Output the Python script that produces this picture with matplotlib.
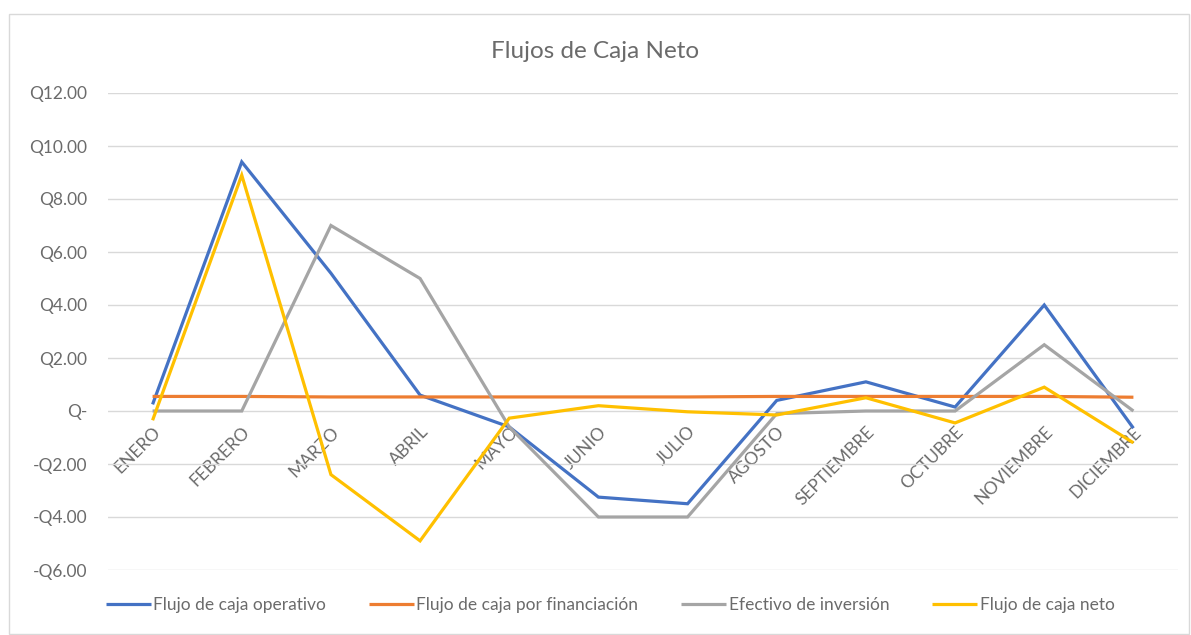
import matplotlib
matplotlib.use("Agg")
import matplotlib.pyplot as plt
from matplotlib.patches import Rectangle
from matplotlib.ticker import FuncFormatter

meses = ["ENERO", "FEBRERO", "MARZO", "ABRIL", "MAYO", "JUNIO", "JULIO",
         "AGOSTO", "SEPTIEMBRE", "OCTUBRE", "NOVIEMBRE", "DICIEMBRE"]

operativo = [0.25, 9.4, 5.2, 0.6, -0.6, -3.25, -3.5, 0.4, 1.1, 0.15, 4.0, -0.65]
financiacion = [0.55, 0.55, 0.53, 0.53, 0.53, 0.53, 0.53, 0.55, 0.55, 0.55, 0.55, 0.52]
inversion = [0.0, 0.0, 7.0, 5.0, -0.6, -4.0, -4.0, -0.1, 0.0, 0.0, 2.5, 0.0]
neto = [-0.35, 8.9, -2.4, -4.9, -0.27, 0.2, -0.03, -0.15, 0.5, -0.45, 0.9, -1.2]

series = [
    ("Flujo de caja operativo", operativo, "#4472C4"),
    ("Flujo de caja por financiación", financiacion, "#ED7D31"),
    ("Efectivo de inversión", inversion, "#A5A5A5"),
    ("Flujo de caja neto", neto, "#FFC000"),
]

plt.rcParams["font.family"] = ["Lato", "DejaVu Sans"]
txt = "#6B6B6B"

fig = plt.figure(figsize=(11.91, 6.35), dpi=100)
fig.add_artist(Rectangle((9 / 1191, 1 / 635), 1180 / 1191, 620 / 635,
                         transform=fig.transFigure, fill=False,
                         edgecolor="#D9D9D9", linewidth=1))
ax = fig.add_axes([108 / 1191, 1 - 570 / 635, 1070 / 1191, 477 / 635])

x = list(range(len(meses)))
for name, vals, color in series:
    ax.plot(x, vals, color=color, linewidth=2.3, label=name,
            solid_joinstyle="miter", solid_capstyle="butt")

ax.set_xlim(-0.5, len(meses) - 0.5)
ax.set_ylim(-6, 12)
ax.set_yticks(range(-6, 13, 2))


def fmt(v, pos):
    if v == 0:
        return "Q-"
    return f"-Q{abs(v):.2f}" if v < 0 else f"Q{v:.2f}"


ax.yaxis.set_major_formatter(FuncFormatter(fmt))
ax.grid(axis="y", color="#D9D9D9", linewidth=1)
ax.set_axisbelow(True)
for s in ["top", "right", "left"]:
    ax.spines[s].set_visible(False)
ax.spines["bottom"].set_position(("data", 0))
ax.spines["bottom"].set_visible(False)
ax.tick_params(axis="y", length=0, labelsize=12.5, labelcolor=txt, pad=15)
ax.tick_params(axis="x", length=0, labelsize=12.5, labelcolor=txt, pad=9)
ax.set_xticks(x)
ax.set_xticklabels(meses, rotation=45, ha="right", va="top",
                   rotation_mode="anchor")

fig.text(0.5, 1 - 52 / 635, "Flujos de Caja Neto", ha="center", va="center",
         fontsize=17.5, color=txt)

ax.legend(loc="center", bbox_to_anchor=((610 - 108) / 1070, (570 - 605) / 477),
          ncol=4, frameon=False, fontsize=12.5, labelcolor=txt,
          handlelength=2.6, handletextpad=0.15, columnspacing=2.45)

fig.savefig("out.png", dpi=100)
